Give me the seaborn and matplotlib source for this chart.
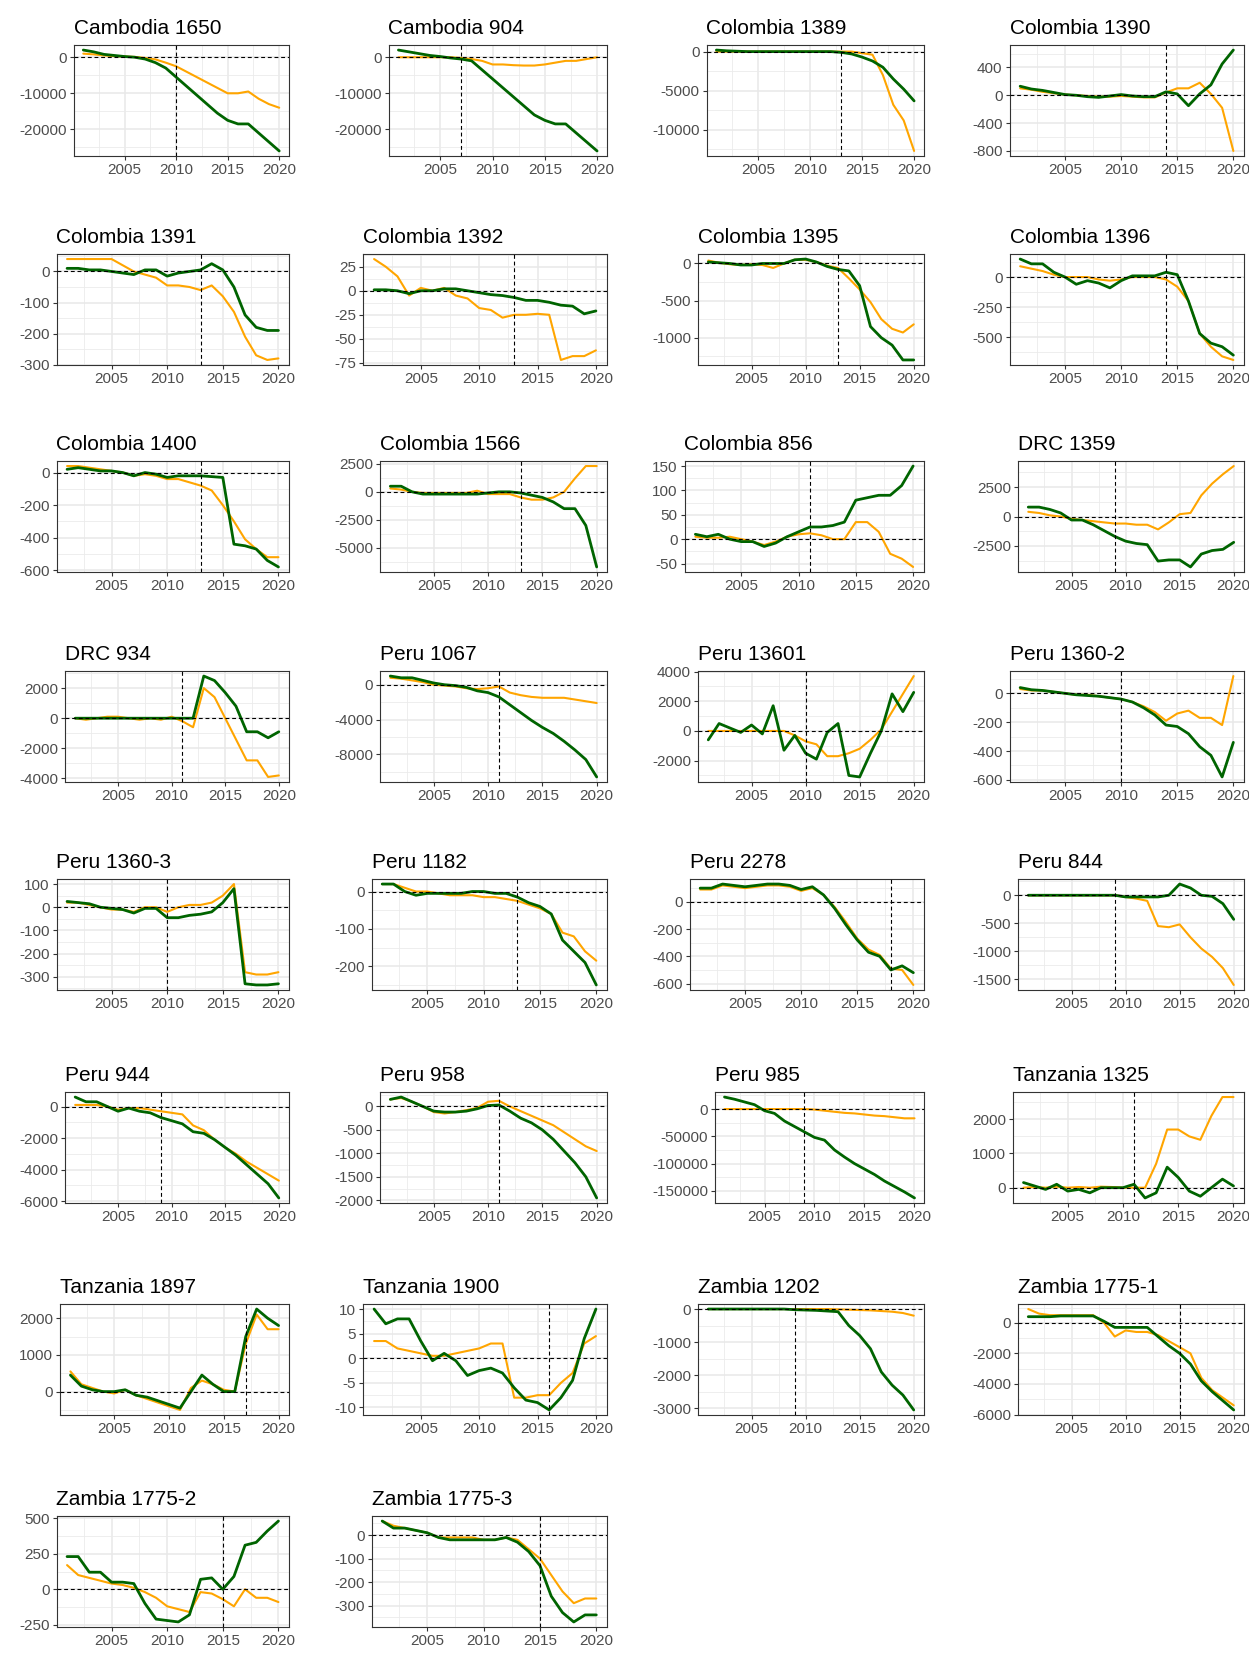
import numpy as np
import pandas as pd
import matplotlib
matplotlib.use("Agg")
import matplotlib.pyplot as plt
import seaborn as sns
from matplotlib.ticker import FixedLocator, FuncFormatter

years = list(range(2001, 2021))

# orange / green series per site
cambodia_1650_o = [1000, 800, 500, 300, 200, 100, -200, -600, -1500, -2500, -4000, -5500, -7000, -8500, -10000, -10000, -9500, -11500, -13000, -14000]
cambodia_1650_g = [2000, 1500, 800, 500, 200, 0, -500, -1500, -3000, -5500, -8000, -10500, -13000, -15500, -17500, -18500, -18500, -21000, -23500, -26000]
cambodia_904_o = [0, 0, 0, 0, 0, 0, -200, -500, -1000, -2000, -2000, -2200, -2300, -2300, -2000, -1500, -1000, -1000, -500, 0]
cambodia_904_g = [2000, 1500, 1000, 500, 200, -200, -500, -1000, -3500, -6000, -8500, -11000, -13500, -16000, -17500, -18500, -18500, -21000, -23500, -26000]
colombia_1389_o = [0, 0, 0, 0, 0, 0, 0, 0, 0, 0, 0, 0, 0, 0, -200, -400, -3000, -6800, -8800, -12700]
colombia_1389_g = [200, 100, 50, 0, 0, 0, 0, 0, 0, 0, 0, 0, -100, -300, -700, -1200, -2000, -3500, -4800, -6300]
colombia_1390_o = [100, 80, 50, 30, 10, 0, -10, -20, -20, -10, -20, -30, -30, 40, 100, 100, 180, 20, -180, -800]
colombia_1390_g = [130, 90, 70, 40, 10, 0, -20, -30, -10, 10, -10, -20, -20, 50, 20, -150, 20, 150, 450, 650]
colombia_1391_o = [40, 40, 40, 40, 40, 20, 0, -10, -20, -45, -45, -50, -60, -45, -80, -130, -210, -270, -285, -280]
colombia_1391_g = [10, 10, 5, 5, 0, -5, -10, 5, 5, -15, -5, 0, 5, 25, 5, -50, -140, -180, -190, -190]
colombia_1392_o = [33, 25, 15, -5, 3, 0, 3, -5, -8, -18, -20, -28, -25, -25, -24, -25, -72, -68, -68, -62]
colombia_1392_g = [1, 1, 0, -3, 0, 0, 2, 2, 0, -2, -4, -5, -7, -10, -10, -12, -15, -16, -24, -21]
colombia_1395_o = [40, 10, -10, -20, -10, -20, -60, 0, 50, 50, 20, -30, -60, -200, -350, -520, -750, -880, -930, -820]
colombia_1395_g = [20, 10, 0, -20, -20, 0, 0, 0, 50, 60, 20, -40, -80, -100, -300, -850, -1000, -1100, -1300, -1300]
colombia_1396_o = [90, 70, 50, 20, 0, 0, 0, -20, -30, -20, 0, 0, 0, -20, -80, -200, -470, -580, -660, -690]
colombia_1396_g = [150, 110, 110, 40, 0, -60, -30, -50, -90, -30, 10, 10, 10, 40, 20, -200, -470, -550, -580, -650]
colombia_1400_o = [40, 40, 30, 20, 10, 0, -20, -10, -20, -40, -40, -60, -80, -110, -200, -300, -410, -470, -520, -520]
colombia_1400_g = [20, 30, 20, 10, 10, 0, -20, 0, -10, -30, -20, -20, -20, -25, -30, -440, -450, -470, -540, -580]
colombia_1566_o = [300, 200, 0, -100, -100, -100, -100, -100, 100, -200, -200, -200, -500, -700, -700, -500, 0, 1200, 2300, 2300]
colombia_1566_g = [500, 500, 0, -200, -200, -200, -200, -200, -200, -100, 0, 0, -100, -300, -500, -900, -1500, -1500, -3000, -6700]
colombia_856_o = [5, 3, 3, 5, 0, -5, -12, -5, 5, 10, 12, 8, 0, 0, 35, 35, 15, -30, -40, -57]
colombia_856_g = [10, 5, 10, 0, -5, -5, -15, -8, 5, 15, 25, 25, 28, 35, 80, 85, 90, 90, 110, 150]
drc_1359_o = [400, 300, 100, 0, -200, -300, -400, -500, -600, -600, -700, -700, -1100, -500, 200, 300, 1800, 2800, 3600, 4300]
drc_1359_g = [800, 800, 600, 300, -300, -300, -700, -1200, -1700, -2100, -2300, -2400, -3800, -3700, -3700, -4300, -3200, -2900, -2800, -2200]
drc_934_o = [0, -100, 0, 100, 100, 0, -100, 0, -100, 100, -200, -600, 2000, 1400, 0, -1400, -2800, -2800, -3900, -3800]
drc_934_g = [0, 0, 0, 0, 0, 0, 0, 0, 0, 0, 0, 0, 2800, 2500, 1700, 800, -900, -900, -1300, -900]
peru_1067_o = [800, 700, 500, 300, 0, -100, -200, -400, -500, -400, -200, -900, -1200, -1400, -1500, -1500, -1500, -1700, -1900, -2100]
peru_1067_g = [1000, 800, 800, 500, 200, 0, -100, -300, -700, -900, -1400, -2300, -3200, -4100, -4900, -5600, -6500, -7500, -8600, -10600]
peru_13601_o = [0, 0, 0, 0, 0, 0, 0, 0, -300, -700, -900, -1700, -1700, -1500, -1200, -600, 100, 1300, 2500, 3700]
peru_13601_g = [-600, 500, 200, -100, 400, -200, 1700, -1300, -300, -1500, -1900, -100, 500, -3000, -3100, -1500, 0, 2500, 1300, 2600]
peru_1360_2_o = [30, 20, 20, 10, 0, -10, -10, -20, -30, -40, -60, -90, -130, -190, -140, -120, -170, -170, -220, 120]
peru_1360_2_g = [40, 25, 20, 10, 0, -10, -15, -20, -30, -40, -60, -100, -150, -220, -230, -280, -370, -430, -580, -340]
peru_1360_3_o = [20, 20, 10, 0, -10, -10, -20, 0, 0, -20, 0, 10, 10, 20, 50, 100, -280, -290, -290, -280]
peru_1360_3_g = [25, 20, 15, 0, -5, -10, -25, -5, -5, -45, -45, -35, -30, -20, 20, 80, -330, -335, -335, -330]
peru_1182_o = [20, 20, 10, 0, 0, -5, -10, -10, -10, -15, -15, -20, -25, -35, -45, -60, -110, -120, -160, -185]
peru_1182_g = [20, 20, 0, -10, -5, -5, -5, -5, 0, 0, -5, -5, -15, -30, -40, -60, -130, -160, -190, -250]
peru_2278_o = [90, 90, 120, 110, 100, 110, 120, 120, 110, 80, 100, 50, -40, -150, -270, -350, -390, -490, -500, -610]
peru_2278_g = [100, 100, 130, 120, 110, 120, 130, 130, 120, 90, 110, 50, -50, -170, -280, -370, -400, -500, -470, -520]
peru_844_o = [0, 0, 0, 0, 0, 0, 0, 0, 0, -30, -60, -100, -550, -570, -520, -750, -950, -1100, -1300, -1600]
peru_844_g = [0, 0, 0, 0, 0, 0, 0, 0, 0, -30, -30, -30, -30, 0, 200, 130, 0, -20, -150, -430]
peru_944_o = [100, 100, 100, 0, -200, -100, -100, -200, -300, -400, -500, -1200, -1500, -2100, -2600, -3000, -3500, -3900, -4300, -4700]
peru_944_g = [600, 300, 300, 0, -300, -100, -300, -400, -700, -900, -1100, -1600, -1700, -2100, -2600, -3100, -3700, -4300, -4900, -5800]
peru_958_o = [150, 180, 100, 0, -120, -150, -120, -80, -30, 100, 120, 0, -100, -200, -300, -400, -550, -700, -850, -950]
peru_958_g = [150, 200, 100, 0, -100, -120, -120, -100, -50, 20, 30, -100, -250, -350, -500, -700, -950, -1200, -1500, -1950]
peru_985_o = [0, 0, 0, 0, 0, 0, 0, 0, 0, -1000, -3000, -5000, -7000, -8000, -10000, -12000, -13000, -15000, -17000, -17000]
peru_985_g = [22000, 18000, 13000, 8000, -3000, -8000, -22000, -32000, -42000, -52000, -57000, -75000, -88000, -100000, -110000, -120000, -132000, -142000, -152000, -163000]
tanzania_1325_o = [0, 20, 0, 30, 0, 20, 0, 30, 20, 0, 0, 0, 700, 1700, 1700, 1500, 1400, 2100, 2650, 2650]
tanzania_1325_g = [150, 50, -50, 100, -100, -50, -150, 0, 0, 0, 100, -300, -150, 600, 300, -100, -250, 0, 250, 50]
tanzania_1897_o = [550, 200, 100, 0, -50, 50, -100, -200, -300, -400, -500, 100, 300, 200, 50, 0, 1300, 2100, 1700, 1700]
tanzania_1897_g = [450, 150, 50, 0, 0, 50, -100, -150, -250, -350, -450, 0, 450, 200, 0, 0, 1500, 2250, 2000, 1800]
tanzania_1900_o = [3.5, 3.5, 2, 1.5, 1, 0.5, 0.5, 1, 1.5, 2, 3, 3, -8, -8, -7.5, -7.5, -5, -3, 3, 4.5]
tanzania_1900_g = [10, 7, 8, 8, 3.5, -0.5, 1, -0.5, -3.5, -2.5, -2, -3, -6, -8.5, -9, -10.5, -8, -4.5, 4, 10]
zambia_1202_o = [0, 0, 0, 0, 0, 0, 0, 0, 0, 0, 0, 0, -10, -20, -30, -40, -60, -80, -120, -200]
zambia_1202_g = [0, 0, 0, 0, 0, 0, 0, 0, -20, -30, -40, -60, -80, -500, -800, -1200, -1900, -2300, -2600, -3050]
zambia_1775_1_o = [900, 600, 500, 500, 500, 500, 500, 0, -900, -500, -600, -600, -800, -1200, -1600, -2000, -3600, -4400, -4900, -5400]
zambia_1775_1_g = [400, 400, 400, 450, 450, 450, 450, 100, -300, -300, -300, -300, -900, -1500, -2000, -2700, -3800, -4500, -5100, -5700]
zambia_1775_2_o = [170, 100, 80, 60, 40, 30, 10, -20, -60, -120, -140, -160, -20, -30, -70, -120, 0, -60, -60, -90]
zambia_1775_2_g = [230, 230, 120, 120, 50, 50, 40, -100, -210, -220, -230, -180, 70, 80, 0, 90, 310, 330, 410, 480]
zambia_1775_3_o = [60, 40, 30, 20, 10, -10, -10, -10, -10, -20, -20, -10, -20, -60, -100, -170, -240, -290, -270, -270]
zambia_1775_3_g = [60, 30, 30, 20, 10, -10, -20, -20, -20, -20, -20, -10, -30, -70, -130, -260, -330, -370, -340, -340]

# (title, orange, green, vertical line year, y ticks)
panels = [
    ("Cambodia 1650", cambodia_1650_o, cambodia_1650_g, 2010, [0, -10000, -20000]),
    ("Cambodia 904", cambodia_904_o, cambodia_904_g, 2007, [0, -10000, -20000]),
    ("Colombia 1389", colombia_1389_o, colombia_1389_g, 2013, [0, -5000, -10000]),
    ("Colombia 1390", colombia_1390_o, colombia_1390_g, 2014, [400, 0, -400, -800]),
    ("Colombia 1391", colombia_1391_o, colombia_1391_g, 2013, [0, -100, -200, -300]),
    ("Colombia 1392", colombia_1392_o, colombia_1392_g, 2013, [25, 0, -25, -50, -75]),
    ("Colombia 1395", colombia_1395_o, colombia_1395_g, 2013, [0, -500, -1000]),
    ("Colombia 1396", colombia_1396_o, colombia_1396_g, 2014, [0, -250, -500]),
    ("Colombia 1400", colombia_1400_o, colombia_1400_g, 2013, [0, -200, -400, -600]),
    ("Colombia 1566", colombia_1566_o, colombia_1566_g, 2013, [2500, 0, -2500, -5000]),
    ("Colombia 856", colombia_856_o, colombia_856_g, 2011, [150, 100, 50, 0, -50]),
    ("DRC 1359", drc_1359_o, drc_1359_g, 2009, [2500, 0, -2500]),
    ("DRC 934", drc_934_o, drc_934_g, 2011, [2000, 0, -2000, -4000]),
    ("Peru 1067", peru_1067_o, peru_1067_g, 2011, [0, -4000, -8000]),
    ("Peru 13601", peru_13601_o, peru_13601_g, 2010, [4000, 2000, 0, -2000]),
    ("Peru 1360-2", peru_1360_2_o, peru_1360_2_g, 2010, [0, -200, -400, -600]),
    ("Peru 1360-3", peru_1360_3_o, peru_1360_3_g, 2010, [100, 0, -100, -200, -300]),
    ("Peru 1182", peru_1182_o, peru_1182_g, 2013, [0, -100, -200]),
    ("Peru 2278", peru_2278_o, peru_2278_g, 2018, [0, -200, -400, -600]),
    ("Peru 844", peru_844_o, peru_844_g, 2009, [0, -500, -1000, -1500]),
    ("Peru 944", peru_944_o, peru_944_g, 2009, [0, -2000, -4000, -6000]),
    ("Peru 958", peru_958_o, peru_958_g, 2011, [0, -500, -1000, -1500, -2000]),
    ("Peru 985", peru_985_o, peru_985_g, 2009, [0, -50000, -100000, -150000]),
    ("Tanzania 1325", tanzania_1325_o, tanzania_1325_g, 2011, [2000, 1000, 0]),
    ("Tanzania 1897", tanzania_1897_o, tanzania_1897_g, 2017, [2000, 1000, 0]),
    ("Tanzania 1900", tanzania_1900_o, tanzania_1900_g, 2016, [10, 5, 0, -5, -10]),
    ("Zambia 1202", zambia_1202_o, zambia_1202_g, 2009, [0, -1000, -2000, -3000]),
    ("Zambia 1775-1", zambia_1775_1_o, zambia_1775_1_g, 2015, [0, -2000, -4000, -6000]),
    ("Zambia 1775-2", zambia_1775_2_o, zambia_1775_2_g, 2015, [500, 250, 0, -250]),
    ("Zambia 1775-3", zambia_1775_3_o, zambia_1775_3_g, 2015, [0, -100, -200, -300]),
]

sns.set_theme(style="white")
plt.rcParams['font.family'] = ['Liberation Sans', 'DejaVu Sans']
plt.rcParams['axes.unicode_minus'] = False

W, H = 1249, 1654
fig = plt.figure(figsize=(W / 100, H / 100), dpi=100)

# layout in pixels
row_tops = [45, 254, 461, 671, 879, 1092, 1304, 1516]
col_right = [289, 607, 924, 1244]
col_anchor = [12, 327, 645, 965]
ph = 111

axes = []
for i, (name, o, g, vyear, yt) in enumerate(panels):
    ax = fig.add_axes([0.1, 0.1, 0.2, 0.05])
    df = pd.DataFrame({'year': years, 'orange': o, 'green': g})
    sns.lineplot(data=df, x='year', y='orange', color='#FFA500', lw=1.5, ax=ax)
    sns.lineplot(data=df, x='year', y='green', color='#006400', lw=2.0, ax=ax)
    ax.axhline(0, color='black', ls=(0, (3.5, 2.5)), lw=0.8, zorder=3)
    ax.axvline(vyear, color='black', ls=(0, (3.5, 2.5)), lw=0.8, zorder=3)

    lo = min(min(o), min(g), 0)
    hi = max(max(o), max(g), 0)
    pad = 0.05 * (hi - lo)
    ax.set_ylim(lo - pad, hi + pad)
    ax.set_xlim(2000.05, 2020.95)

    ax.set_xticks([2005, 2010, 2015, 2020])
    ax.xaxis.set_minor_locator(FixedLocator([2002.5, 2007.5, 2012.5, 2017.5]))
    ax.set_yticks(yt)
    step = abs(yt[0] - yt[1])
    ymin_minor = [v for v in np.arange(min(yt) - step / 2, max(yt) + step, step)
                  if lo - pad <= v <= hi + pad]
    ax.yaxis.set_minor_locator(FixedLocator(ymin_minor))
    ax.yaxis.set_major_formatter(FuncFormatter(lambda v, _: f"{v:g}"))

    ax.grid(which='major', color='#E8E8E8', lw=1.1)
    ax.grid(which='minor', color='#EBEBEB', lw=0.6)
    ax.set_axisbelow(True)
    for s in ax.spines.values():
        s.set_color('#333333')
        s.set_linewidth(0.8)
    ax.tick_params(which='major', length=3, width=0.8, color='#333333',
                   labelcolor='#4D4D4D', labelsize=11, pad=2,
                   bottom=True, left=True)
    ax.tick_params(which='minor', length=0)
    ax.set_xlabel('')
    ax.set_ylabel('')
    ax.set_title(name, loc='left', fontsize=15, pad=8, color='black')
    axes.append(ax)

fig.canvas.draw()
renderer = fig.canvas.get_renderer()
for i, ax in enumerate(axes):
    r, c = divmod(i, 4)
    lw_px = max(t.get_window_extent(renderer).width for t in ax.get_yticklabels()
                if t.get_text())
    left = col_anchor[c] + lw_px + 14
    width = col_right[c] - left
    top = row_tops[r]
    ax.set_position([left / W, 1 - (top + ph) / H, width / W, ph / H])
    ax.title.set_x(-6 / width)

fig.savefig('out.png', dpi=100)
